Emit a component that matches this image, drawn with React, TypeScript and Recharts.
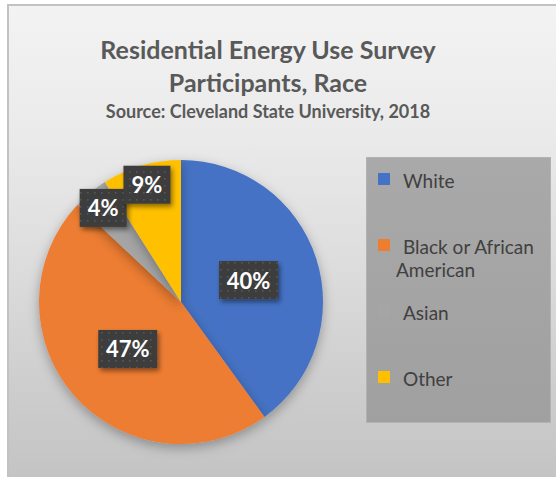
import React from 'react';
import { PieChart, Pie, Cell, Legend } from 'recharts';

const categories = ['White', 'Black or African American', 'Asian', 'Other'];
const shares = [40, 47, 4, 9];
const COLORS = ['#4472C4', '#ED7D31', '#A5A5A5', '#FFC000'];

const titleLines = ['Residential Energy Use Survey', 'Participants, Race'];
const subtitle = 'Source: Cleveland State University, 2018';

const data = categories.map((name, i) => ({ name, value: shares[i] }));

const FONT = 'Lato, "Open Sans", sans-serif';
const RADIAN = Math.PI / 180;

// dark tag with a dotted texture, sitting inside big slices and near the rim for small ones
function renderLabel(props: any) {
  const { cx, cy, midAngle, outerRadius, percent, value } = props;
  const r = percent < 0.1 ? outerRadius * 0.86 : outerRadius * 0.5;
  const x = cx + r * Math.cos(-midAngle * RADIAN);
  const y = cy + r * Math.sin(-midAngle * RADIAN);
  const w = String(value).length > 1 ? 59 : 47;
  const h = 38;
  return (
    <g key={`lbl-${value}`}>
      <rect x={x - w / 2} y={y - h / 2} width={w} height={h} fill="url(#dots)" filter="url(#tagShadow)" />
      <text
        x={x}
        y={y}
        textAnchor="middle"
        dominantBaseline="central"
        fill="#ffffff"
        fontFamily={FONT}
        fontWeight={700}
        fontSize={22}
      >
        {`${value}%`}
      </text>
    </g>
  );
}

function LegendBox() {
  const rows = [12, 78, 144, 210];
  return (
    <div
      style={{
        position: 'absolute',
        left: 0,
        top: 0,
        width: 185,
        height: 266,
        background: 'linear-gradient(180deg, #a9a9a9 0%, #a0a0a0 100%)',
        boxShadow: 'inset 0 0 0 1px #b2b2b2',
        fontFamily: FONT,
        fontSize: 19,
        color: '#404040',
      }}
    >
      {categories.map((name, i) => (
        <div key={name} style={{ position: 'absolute', left: 0, top: rows[i], width: 185, lineHeight: '23px' }}>
          <span
            style={{
              position: 'absolute',
              left: 12,
              top: 4,
              width: 12,
              height: 12,
              background: COLORS[i],
            }}
          />
          <div style={{ position: 'absolute', left: 37, top: 0, whiteSpace: 'nowrap' }}>
            {name === 'Black or African American' ? (
              <>
                Black or African
                <br />
                <span style={{ marginLeft: -7 }}>American</span>
              </>
            ) : (
              name
            )}
          </div>
        </div>
      ))}
    </div>
  );
}

export default function App() {
  return (
    <div style={{ position: 'absolute', left: 0, top: 0, width: 556, height: 477, background: '#ffffff', overflow: 'hidden' }}>
      <style>{`.recharts-pie-sector { filter: url(#pieShadow); }`}</style>
      <div
        style={{
          position: 'absolute',
          left: 7,
          top: 4,
          width: 560,
          height: 480,
          borderTop: '2px solid #c2c2c2',
          borderLeft: '2px solid #c2c2c2',
          background: 'linear-gradient(180deg, #f3f3f3 0%, #ebebeb 25%, #dcdcdc 55%, #cdcdcd 80%, #c3c3c3 100%)',
        }}
      />
      <div
        style={{
          position: 'absolute',
          left: 0,
          top: 33,
          width: 536,
          textAlign: 'center',
          fontFamily: FONT,
          fontWeight: 700,
          color: '#595959',
        }}
      >
        {titleLines.map((t) => (
          <div key={t} style={{ fontSize: 25, lineHeight: '33px' }}>
            {t}
          </div>
        ))}
        <div style={{ fontSize: 18, lineHeight: '24px' }}>{subtitle}</div>
      </div>
      <div style={{ position: 'absolute', left: 0, top: 0 }}>
        <PieChart width={556} height={477} margin={{ top: 0, right: 0, bottom: 0, left: 0 }}>
          <defs>
            <pattern id="dots" width="7" height="7" patternUnits="userSpaceOnUse">
              <rect width="7" height="7" fill="#3d3d3d" />
              <rect x="3" y="3" width="1.6" height="1.6" fill="#575757" />
            </pattern>
            <filter id="tagShadow" x="-30%" y="-30%" width="160%" height="180%">
              <feDropShadow dx="2" dy="3" stdDeviation="2.5" floodColor="#000" floodOpacity="0.45" />
            </filter>
            <filter id="pieShadow" x="-20%" y="-20%" width="140%" height="140%">
              <feDropShadow dx="0" dy="4" stdDeviation="6" floodColor="#000" floodOpacity="0.3" />
            </filter>
          </defs>
          <Pie
            data={data}
            dataKey="value"
            nameKey="name"
            cx={181}
            cy={302}
            outerRadius={142}
            startAngle={90}
            endAngle={-270}
            stroke="none"
            label={renderLabel}
            labelLine={false}
            isAnimationActive={false}
          >
            {data.map((d, i) => (
              <Cell key={d.name} fill={COLORS[i]} />
            ))}
          </Pie>
          <Legend
            content={() => <LegendBox />}
            wrapperStyle={{ position: 'absolute', left: 366, top: 157, width: 185, height: 266 }}
          />
        </PieChart>
      </div>
    </div>
  );
}
